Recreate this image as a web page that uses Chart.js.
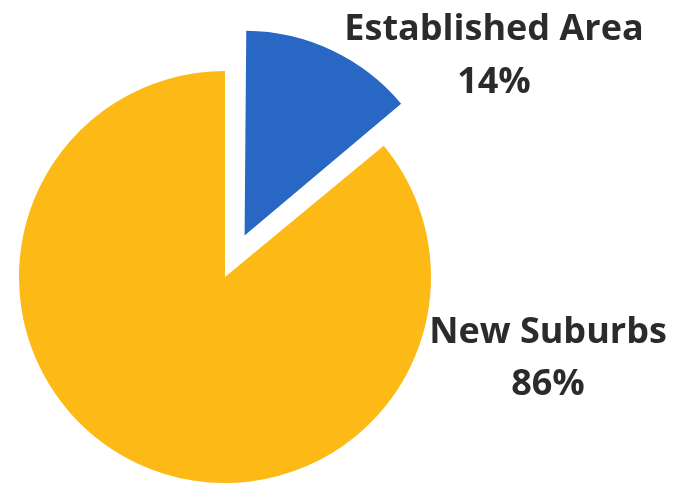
<!DOCTYPE html>
<html>
<head>
<meta charset="utf-8">
<script src="https://cdn.jsdelivr.net/npm/chart.js@4"></script>
<style>
  html, body { margin: 0; padding: 0; background: #fff; }
  #wrap { width: 675px; height: 486px; }
</style>
</head>
<body>
<div id="wrap"><canvas id="pie" width="675" height="486"></canvas></div>
<script>
// values
var categories = ['Established Area', 'New Suburbs'];
var shares = [14, 86];
var sliceColors = ['#2867c3', '#fdb915'];

// text drawn next to each slice
var labelPlugin = {
	id: 'sliceLabels',
	afterDraw: function(chart) {
		var ctx = chart.ctx;
		var spots = [[494, 40, 93], [548, 343, 395]];
		ctx.save();
		ctx.fillStyle = '#2b2b2b';
		ctx.font = 'bold 36px "Open Sans"';
		ctx.textAlign = 'center';
		ctx.textBaseline = 'alphabetic';
		for (var i = 0; i < categories.length; i++) {
			ctx.fillText(categories[i], spots[i][0], spots[i][1]);
			ctx.fillText(shares[i] + '%', spots[i][0], spots[i][2]);
		}
		ctx.restore();
	}
};

// chart.js grows an exploded slice a bit, shrink it back a little
var shrinkPlugin = {
	id: 'shrinkExploded',
	afterDatasetUpdate: function(chart, args) {
		var arc = args.meta.data[0];
		if (arc) arc.outerRadius -= 12;
	}
};

const ctx = document.getElementById('pie').getContext('2d');
const myChart = new Chart(ctx, {
	type: 'pie',
	data: {
		labels: categories,
		datasets: [{
			data: shares,
			backgroundColor: sliceColors,
			borderWidth: 0,
			offset: [184, 0], // chart.js moves the arc by about offset/4
			radius: 206
		}]
	},
	options: {
		responsive: false,
		animation: false,
		layout: { padding: { left: 0, right: 225, top: 68, bottom: 0 } },
		plugins: {
			legend: { display: false },
			tooltip: { enabled: false }
		}
	},
	plugins: [labelPlugin, shrinkPlugin]
});
</script>
</body>
</html>
